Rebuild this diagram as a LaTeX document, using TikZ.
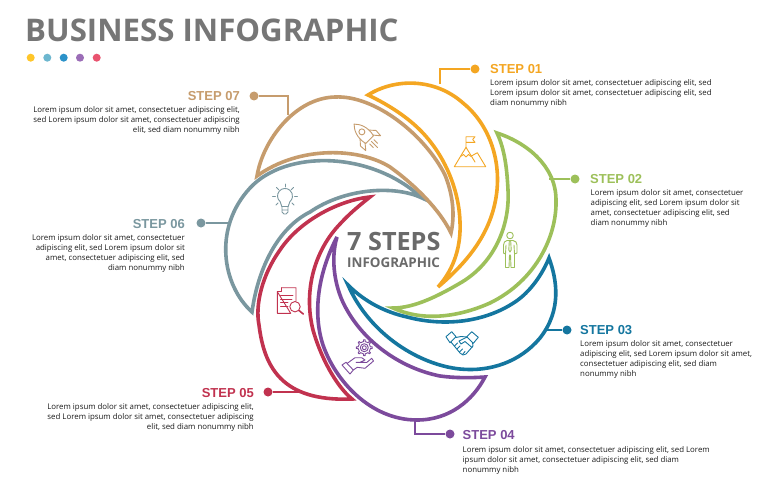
\documentclass[tikz,border=0pt]{standalone}
\usepackage{fontspec}
\setmainfont{Open Sans}
\newfontfamily\lab{Liberation Sans}
\definecolor{corange}{HTML}{F4A622}
\definecolor{cgreen}{HTML}{9DC05A}
\definecolor{cblue}{HTML}{14769F}
\definecolor{cpurple}{HTML}{7C4A9C}
\definecolor{cred}{HTML}{C1324F}
\definecolor{cslate}{HTML}{7A979F}
\definecolor{ctan}{HTML}{C69C6D}
\definecolor{cgrey}{HTML}{767676}
\definecolor{cbody}{HTML}{1C1C1C}
\definecolor{dotA}{HTML}{FFC629}
\definecolor{dotB}{HTML}{6DB7CF}
\definecolor{dotC}{HTML}{2B92C9}
\definecolor{dotD}{HTML}{9B6DB7}
\definecolor{dotE}{HTML}{E9536F}
\tikzset{
  crescent/.style={draw=#1,line width=3.6pt,line join=miter,miter limit=8},
  leader/.style={draw=#1,line width=2.2pt},
  enddot/.style={circle,fill=#1,inner sep=0pt,minimum size=9pt},
  stepname/.style={text=#1,inner sep=0pt,font=\lab\bfseries\fontsize{13}{13}\selectfont},
  blurbl/.style={text=cbody,inner sep=0pt,align=left,anchor=north west,font=\fontsize{7.85}{10}\selectfont},
  blurbr/.style={text=cbody,inner sep=0pt,align=right,anchor=north east,font=\fontsize{7.85}{10}\selectfont},
  icon/.style={draw=#1,line width=0.9pt,line join=round,line cap=round},
  tinydot/.style={circle,fill=#1,inner sep=0pt,minimum size=8pt},
}
\begin{document}
\begin{tikzpicture}[x=1pt,y=-1pt]
\useasboundingbox (0,0) rectangle (778,500);
\fill[white] (0,0) rectangle (778,500);

% title
\node[anchor=base west,inner sep=0pt,text=cgrey] (title) at (25,41.5)
  {\fontsize{31.2}{31}\selectfont\bfseries BUSINESS INFOGRAPHIC};
\node[tinydot=dotA] (t1) at (30.7,57.7) {};
\node[tinydot=dotB] (t2) at (47.3,57.7) {};
\node[tinydot=dotC] (t3) at (63.7,57.7) {};
\node[tinydot=dotD] (t4) at (80,57.7) {};
\node[tinydot=dotE] (t5) at (96.7,57.7) {};

% crescents
\draw[crescent=corange] (368,95) .. controls (395,78) and (435,78) .. (463,103)
  .. controls (490,125) and (500,160) .. (497,190) .. controls (493,230) and (470,260) .. (438,287)
  .. controls (455,268) and (461,245) .. (460,222) .. controls (459,190) and (445,155) .. (420,130)
  .. controls (405,115) and (385,103) .. cycle;
\draw[crescent=cgreen] (497,133) .. controls (525,142) and (556,165) .. (556,200)
  .. controls (557,235) and (537,280) .. (490,303) .. controls (470,312) and (430,325) .. (393,308)
  .. controls (415,308) and (440,295) .. (462,282) .. controls (495,262) and (510,225) .. (508,190)
  .. controls (507,170) and (505,150) .. cycle;
\draw[crescent=cblue] (549,258) .. controls (557,280) and (562,310) .. (540,338)
  .. controls (520,362) and (490,372) .. (460,369) .. controls (420,365) and (370,335) .. (348,285)
  .. controls (365,302) and (385,312) .. (407,317) .. controls (445,327) and (485,322) .. (515,302)
  .. controls (530,292) and (542,275) .. cycle;
\draw[crescent=cpurple] (485,377) .. controls (473,400) and (450,420) .. (417,420)
  .. controls (370,420) and (335,380) .. (323,345) .. controls (313,315) and (317,275) .. (337,237)
  .. controls (330,260) and (335,290) .. (347,310) .. controls (365,342) and (400,368) .. (440,376)
  .. controls (455,378) and (470,378) .. cycle;
\draw[crescent=cred] (370,197) .. controls (340,200) and (300,220) .. (280,250)
  .. controls (262,275) and (255,305) .. (259,325) .. controls (264,365) and (280,402) .. (352,399)
  .. controls (335,385) and (320,355) .. (313,330) .. controls (303,290) and (315,250) .. (340,224)
  .. controls (350,213) and (360,205) .. cycle;
\draw[crescent=cslate] (252,312) .. controls (222,285) and (213,228) .. (250,188)
  .. controls (285,150) and (370,150) .. (422,198)
  .. controls (395,185) and (345,188) .. (310,212) .. controls (278,228) and (258,268) .. cycle;
\draw[crescent=ctan] (257,176) .. controls (263,140) and (295,98) .. (335,97)
  .. controls (375,95) and (425,135) .. (445,175) .. controls (453,195) and (455,215) .. (451,233)
  .. controls (440,210) and (415,185) .. (390,167) .. controls (360,148) and (300,145) .. cycle;

% anchor points on the crescents
\coordinate (c1) at (440,84);
\coordinate (c2) at (549,179);
\coordinate (c3) at (546,330);
\coordinate (c4) at (415,420);
\coordinate (c5) at (299,392);
\coordinate (c6) at (229,223);
\coordinate (c7) at (288,115);

% end dots
\node[enddot=corange] (d1) at (475,69) {};
\node[enddot=cgreen] (d2) at (575,179) {};
\node[enddot=cblue] (d3) at (567,330) {};
\node[enddot=cpurple] (d4) at (450,434) {};
\node[enddot=cred] (d5) at (268,392) {};
\node[enddot=cslate] (d6) at (201,223) {};
\node[enddot=ctan] (d7) at (254,96) {};

% connectors
\draw[leader=corange] (d1) -| (c1);
\draw[leader=cgreen] (d2) -- (c2);
\draw[leader=cblue] (d3) -- (c3);
\draw[leader=cpurple] (d4) -| (c4);
\draw[leader=cred] (d5) -- (c5);
\draw[leader=cslate] (d6) -- (c6);
\draw[leader=ctan] (d7) -| (c7);

% step labels
\node[stepname=corange,anchor=west] (s1) at (490,69) {STEP 01};
\node[stepname=cgreen,anchor=west] (s2) at (590,179) {STEP 02};
\node[stepname=cblue,anchor=west] (s3) at (580,330) {STEP 03};
\node[stepname=cpurple,anchor=west] (s4) at (462.5,435) {STEP 04};
\node[stepname=cred,anchor=east] (s5) at (254,393) {STEP 05};
\node[stepname=cslate,anchor=east] (s6) at (185,224) {STEP 06};
\node[stepname=ctan,anchor=east] (s7) at (240,96) {STEP 07};

% blurbs
\node[blurbl] (b1) at (490,79.8) {Lorem ipsum dolor sit amet, consectetuer adipiscing elit, sed\\Lorem ipsum dolor sit amet, consectetuer adipiscing elit, sed\\diam nonummy nibh};
\node[blurbl] (b2) at (590.5,189.8) {Lorem ipsum dolor sit amet, consectetuer\\adipiscing elit, sed Lorem ipsum dolor sit\\amet, consectetuer adipiscing elit, sed\\diam nonummy nibh};
\node[blurbl] (b3) at (580,340.8) {Lorem ipsum dolor sit amet, consectetuer\\adipiscing elit, sed Lorem ipsum dolor sit amet,\\consectetuer adipiscing elit, sed diam\\nonummy nibh};
\node[blurbl] (b4) at (462.5,446.3) {Lorem ipsum dolor sit amet, consectetuer adipiscing elit, sed Lorem\\ipsum dolor sit amet, consectetuer adipiscing elit, sed diam\\nonummy nibh};
\node[blurbr] (b5) at (254,403.8) {Lorem ipsum dolor sit amet, consectetuer adipiscing elit,\\sed Lorem ipsum dolor sit amet, consectetuer adipiscing\\elit, sed diam nonummy nibh};
\node[blurbr] (b6) at (185,234.8) {Lorem ipsum dolor sit amet, consectetuer\\adipiscing elit, sed Lorem ipsum dolor sit\\amet, consectetuer adipiscing elit, sed\\diam nonummy nibh};
\node[blurbr] (b7) at (240,106.8) {Lorem ipsum dolor sit amet, consectetuer adipiscing elit,\\sed Lorem ipsum dolor sit amet, consectetuer adipiscing\\elit, sed diam nonummy nibh};

% centre text
\node[anchor=base west,inner sep=0pt,text=cgrey!90!black] (big) at (347,250)
  {\fontsize{25.2}{25}\selectfont\bfseries 7 STEPS};
\node[anchor=base west,inner sep=0pt,text=cgrey!90!black] (small) at (347,267)
  {\fontsize{13.4}{13}\selectfont\bfseries INFOGRAPHIC};

% mountain icon
\begin{scope}[icon=corange]
\draw (454.3,166.7) -- (466,147.3) -- (475,162) (471.5,156) -- (477.3,152.7) -- (485.7,166.7) -- (454.3,166.7);
\draw (466,147.3) -- (466,136.7) -- (475,136.7) -- (472.7,139.5) -- (475,142.3) -- (466,142.3);
\draw (460.5,156.5) -- (463.5,154.5) -- (466,157) -- (468.5,154.5) -- (471,156.5);
\end{scope}

% rocket icon
\begin{scope}[icon=ctan,shift={(364,134)},rotate=45]
\draw (-5.5,8) .. controls (-8,-3) and (-4,-10) .. (0,-14) .. controls (4,-10) and (8,-3) .. (5.5,8) -- cycle;
\draw (0,-3) circle[radius=3];
\draw (-6.5,1) -- (-11,6) -- (-10.5,13) -- (-5.5,7);
\draw (6.5,1) -- (11,6) -- (10.5,13) -- (5.5,7);
\draw (-3,11) -- (-3,16) (0,10.5) -- (0,19) (3,11) -- (3,16);
\end{scope}

% bulb icon
\begin{scope}[icon=cslate]
\draw (280.2,201.7) arc[start angle=-230,end angle=50,radius=7.5] -- (288.2,206.5) -- (281.8,206.5) -- cycle;
\draw (282,206.5) -- (282,212) -- (284,214) -- (286,214) -- (288,212) -- (288,206.5) (282,210) -- (288,210);
\draw (285,184) -- (285,187);
\draw (276.5,187.5) -- (278.8,189.8) (293.5,187.5) -- (291.2,189.8);
\draw (272.5,196) -- (275.5,196) (297.5,196) -- (294.5,196);
\draw (276,205) -- (278,203) (294,205) -- (292,203);
\end{scope}

% man icon
\begin{scope}[icon=cgreen]
\draw (510,235.5) circle[radius=3.3];
\draw (507,240.5) -- (513,240.5) -- (516,242) -- (517,245) -- (517,253) -- (514.5,254) -- (514.5,267.5) -- (511,267.5) -- (510.5,255) -- (509.5,255) -- (509,267.5) -- (505.5,267.5) -- (505.5,254) -- (503.5,253) -- (503.5,245) -- (504.5,242) -- cycle;
\draw (509.3,241) -- (510.7,241) -- (511.2,250) -- (510,252) -- (508.8,250) -- cycle;
\draw (506,245) -- (505.5,254) (514,245) -- (514.5,254);
\end{scope}

% handshake icon
\begin{scope}[icon=cblue]
\draw (446,336.7) -- (451.7,331.7) -- (456,336.7) -- (450,342.7) -- cycle;
\draw (466.7,336.7) -- (471.7,331.7) -- (478.3,337.3) -- (473.3,343.3) -- cycle;
\draw (451,342) -- (460,353) -- (463,355) -- (466,354) -- (473,346) -- (472.5,342.5);
\draw (456,337.5) -- (461,336.5) -- (467,337);
\draw (467,337) -- (459,341) -- (461,344) -- (465,341.5) -- (472,347.5);
\draw (454.5,346) -- (457.5,343) (457,349) -- (460,346) (459.5,352) -- (462.5,349) (462.5,354.5) -- (465,351.5);
\end{scope}

% document icon
\begin{scope}[icon=cred]
\draw (281.7,287.7) -- (296,287.7) -- (296,301) (290.7,313.3) -- (277.3,313.3) -- (277.3,291.7) -- cycle;
\draw (281.7,287.7) -- (281.7,291.7) -- (277.3,291.7);
\draw (280.5,295.5) -- (293,295.5) (280.5,299) -- (292,299) (280.5,302.5) -- (288,302.5) (280.5,306) -- (288,306);
\draw (295,306.7) circle[radius=5.2];
\draw[line width=1.6pt] (299,310.5) -- (303.3,314);
\end{scope}

% hand and gear icon
\begin{scope}[icon=cpurple]
\draw (342,365) -- (346,362.3) -- (353.3,370) -- (350,374) -- cycle;
\draw (347.3,363.3) -- (355,357.7) -- (361.7,357.7) -- (365,360) -- (360,362.3) -- (356,362.3)
  (360.5,362.3) -- (366.7,362.5) -- (371.7,358.3) -- (373.5,361) -- (365,368.3) -- (357.3,367.3) -- (353.3,370);
\begin{scope}[shift={(364.3,347.7)}]
\draw (0,0) circle[radius=2];
\draw (0,0) circle[radius=4];
\draw (-8:6.2) \foreach \a in {0,45,...,315}{ -- (\a-8:6.2) -- (\a-6:8) -- (\a+6:8) -- (\a+8:6.2) } -- cycle;
\end{scope}
\end{scope}
\end{tikzpicture}
\end{document}
